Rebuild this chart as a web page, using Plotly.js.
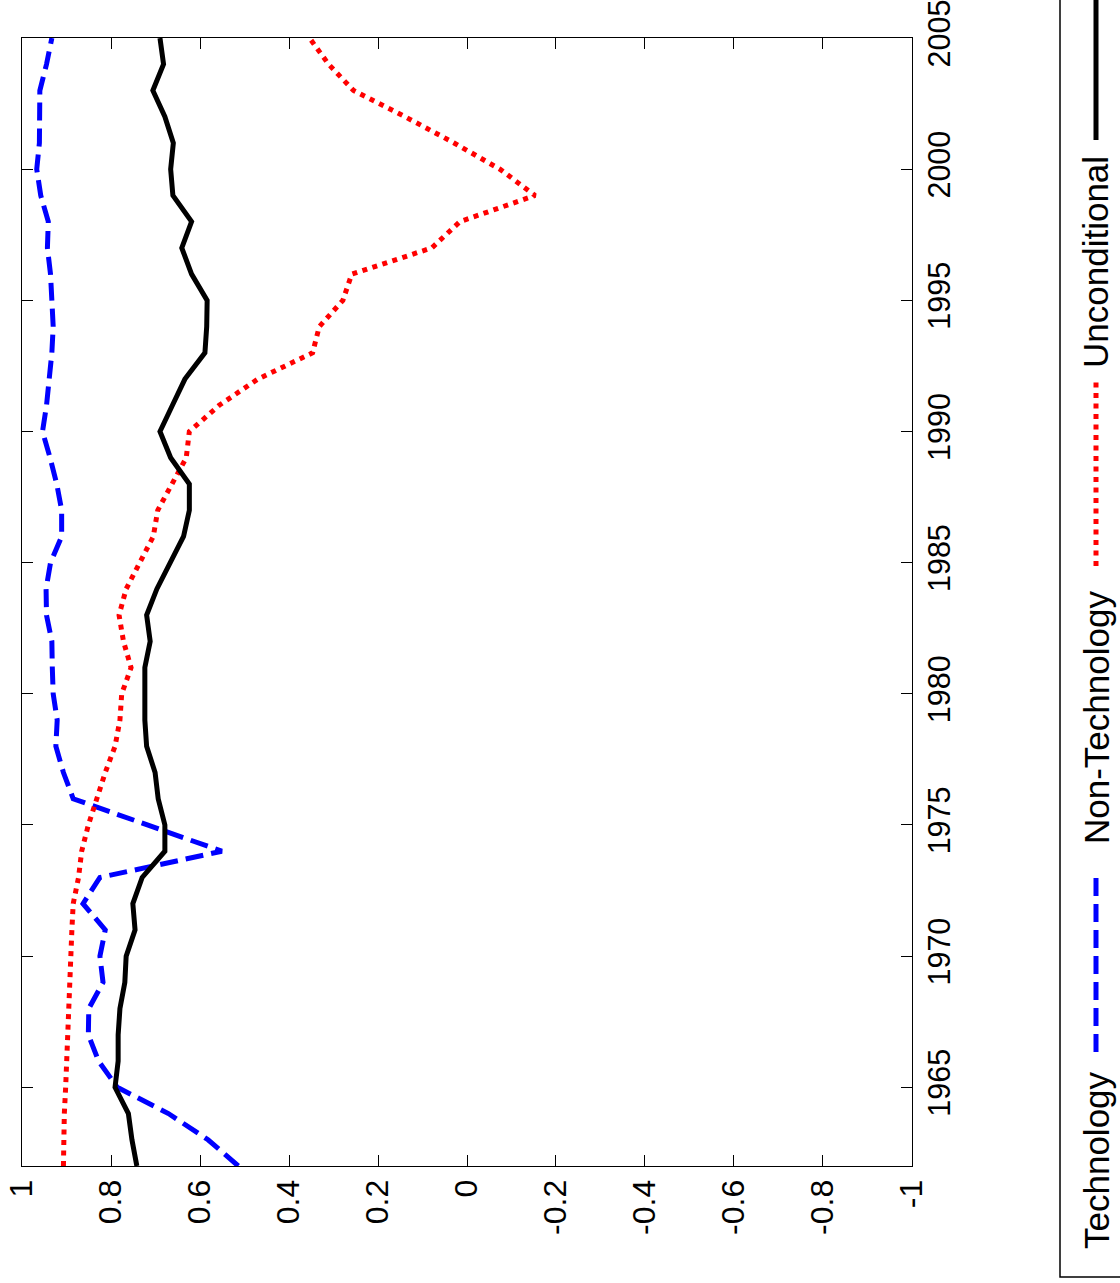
<!DOCTYPE html>
<html>
<head>
<meta charset="utf-8">
<script src="https://cdn.plot.ly/plotly-3.0.1.min.js"></script>
<style>
html,body{margin:0;padding:0;background:#fff;}
#chart{width:1120px;height:1283px;}
</style>
</head>
<body>
<div id="chart"></div>
<script>
// ---- data ----
const years = [1962,1963,1964,1965,1966,1967,1968,1969,1970,1971,1972,1973,1974,1975,1976,1977,1978,1979,1980,1981,1982,1983,1984,1985,1986,1987,1988,1989,1990,1991,1992,1993,1994,1995,1996,1997,1998,1999,2000,2001,2002,2003,2004,2005];

const technology = [0.514,0.582,0.671,0.786,0.828,0.851,0.850,0.818,0.825,0.813,0.863,0.825,0.551,0.715,0.885,0.907,0.924,0.921,0.930,0.932,0.933,0.945,0.946,0.936,0.911,0.911,0.922,0.937,0.954,0.945,0.939,0.933,0.930,0.933,0.936,0.943,0.941,0.958,0.967,0.961,0.960,0.960,0.945,0.933];

const nonTechnology = [0.907,0.907,0.905,0.902,0.900,0.896,0.894,0.894,0.891,0.888,0.885,0.873,0.866,0.851,0.832,0.813,0.791,0.780,0.776,0.755,0.772,0.782,0.766,0.736,0.705,0.695,0.664,0.631,0.624,0.557,0.470,0.347,0.332,0.279,0.259,0.079,0.016,-0.153,-0.074,0.029,0.139,0.255,0.311,0.354];

const unconditional = [0.742,0.753,0.761,0.791,0.784,0.784,0.780,0.769,0.766,0.746,0.751,0.730,0.679,0.679,0.694,0.701,0.720,0.724,0.724,0.724,0.712,0.720,0.697,0.668,0.637,0.624,0.624,0.666,0.690,0.662,0.634,0.589,0.585,0.584,0.619,0.641,0.619,0.661,0.666,0.660,0.679,0.706,0.682,0.690];

const seriesNames = ['Technology','Non-Technology','Unconditional'];

const valueTicks = [1,0.8,0.6,0.4,0.2,0,-0.2,-0.4,-0.6,-0.8,-1];
const valueTickLabels = ['1','0.8','0.6','0.4','0.2','0','-0.2','-0.4','-0.6','-0.8','-1'];
const yearTicks = [1965,1970,1975,1980,1985,1990,1995,2000,2005];
const yearTickLabels = ['1965','1970','1975','1980','1985','1990','1995','2000','2005'];

// ---- styles ----
const FONT = 'Liberation Sans, Arial, Helvetica, sans-serif';
const styles = [
  {color:'#0000ff', width:5, dash:'18px,8px'},
  {color:'#ff0000', width:5, dash:'5px,5.5px'},
  {color:'#000000', width:5, dash:'solid'}
];
const seriesData = [technology, nonTechnology, unconditional];

// figure is rotated: values on horizontal axis (reversed), years on vertical axis
const traces = seriesData.map((vals,i)=>({
  type:'scatter', mode:'lines',
  x: vals, y: years,
  name: seriesNames[i],
  line: {color:styles[i].color, width:styles[i].width, dash:styles[i].dash},
  showlegend:false, hoverinfo:'skip'
}));

// plot area in pixels
const L=22, R=912, T=38, B=1166, W=1120, H=1283;
const px = p => (p-L)/(R-L);
const py = p => (B-p)/(B-T);

// legend (rotated) built from annotations + shapes
const legendItems = [
  {text:seriesNames[0], tc:1160, s0:1052, s1:873, st:styles[0]},
  {text:seriesNames[1], tc:718,  s0:566,  s1:380, st:styles[1]},
  {text:seriesNames[2], tc:262,  s0:140,  s1:-40, st:styles[2]}
];
const legendX = 1096;
const annotations = legendItems.map(it=>({
  xref:'paper', yref:'paper', x:px(legendX), y:py(it.tc),
  text: it.text, textangle:-90, showarrow:false,
  xanchor:'center', yanchor:'middle',
  font:{family:FONT, size:35, color:'#000'}
}));
const shapes = legendItems.map(it=>({
  type:'line', xref:'paper', yref:'paper',
  x0:px(legendX), x1:px(legendX), y0:py(it.s0), y1:py(it.s1),
  line:{color:it.st.color, width:it.st.width, dash:it.st.dash}
}));
shapes.push({
  type:'rect', xref:'paper', yref:'paper',
  x0:px(1060), x1:px(1140), y0:py(1277), y1:py(-20),
  line:{color:'#000', width:1.5}, fillcolor:'rgba(0,0,0,0)'
});

const axisCommon = {
  showline:true, linecolor:'#000', linewidth:1, mirror:'allticks',
  ticks:'inside', ticklen:11, tickwidth:1, tickcolor:'#000',
  showgrid:false, zeroline:false, tickangle:-90,
  ticklabeloverflow:'allow',
  tickfont:{family:FONT, size:32, color:'#000'}
};

const layout = {
  width:W, height:H,
  margin:{l:L, r:W-R, t:T, b:H-B, pad:0},
  paper_bgcolor:'#fff', plot_bgcolor:'#fff',
  showlegend:false,
  xaxis: Object.assign({}, axisCommon, {
    range:[1.0001,-1.0001], autorange:false,
    tickmode:'array', tickvals:valueTicks, ticktext:valueTickLabels
  }),
  yaxis: Object.assign({}, axisCommon, {
    range:[1962,2005.002], autorange:false, side:'right',
    tickmode:'array', tickvals:yearTicks, ticktext:yearTickLabels,
    tickfont:{family:FONT, size:30.5, color:'#000'}
  }),
  annotations: annotations,
  shapes: shapes
};

Plotly.newPlot('chart', traces, layout, {displayModeBar:false, staticPlot:true});
</script>
</body>
</html>
